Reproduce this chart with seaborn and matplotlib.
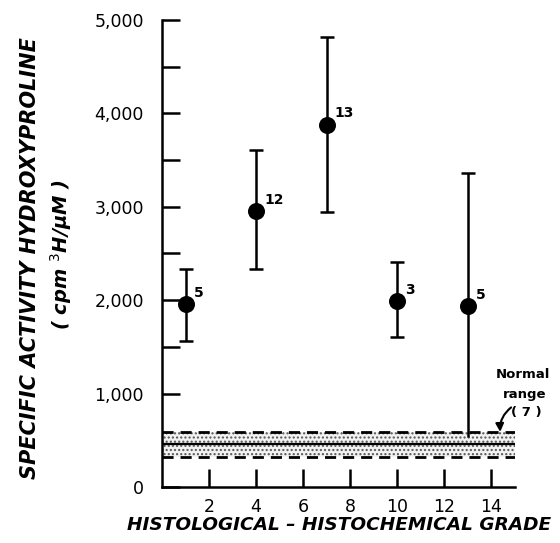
import matplotlib
matplotlib.use("Agg")
import matplotlib.pyplot as plt
import matplotlib.ticker as mticker
import seaborn as sns
import numpy as np
import pandas as pd

# ---- data ----
grade = [1, 4, 7, 10, 13]
activity = [1960, 2955, 3880, 1995, 1935]
err_upper = [2335, 3605, 4815, 2410, 3360]
err_lower = [1560, 2335, 2945, 1610, 540]
n_labels = ["5", "12", "13", "3", "5"]
lower_cap = [True, True, True, True, False]

normal_low = 320
normal_mid = 460
normal_high = 590
normal_x = [0, 15]

x_ticks = [2, 4, 6, 8, 10, 12, 14]
y_major = [0, 1000, 2000, 3000, 4000, 5000]

df = pd.DataFrame({"grade": grade, "activity": activity})

sns.set_theme(style="ticks")
plt.rcParams['font.family'] = ['DejaVu Sans']
plt.rcParams['text.color'] = 'black'
plt.rcParams['hatch.color'] = '#555555'
plt.rcParams['hatch.linewidth'] = 1.0

fig = plt.figure(figsize=(5.6, 5.43), dpi=100)
ax = fig.add_axes([162/560, 1-487/543, 352.5/560, 467/543])

# normal range band
ax.fill_between(normal_x, normal_low, normal_high, facecolor="#f2f2f2",
                edgecolor="#555555", hatch="....", linewidth=0, zorder=1)
ax.hlines([normal_low, normal_high], normal_x[0], normal_x[1], colors="black",
          linestyles=(0, (4, 2.5)), linewidth=2, zorder=2)
ax.hlines([normal_mid], normal_x[0], normal_x[1], colors="black",
          linewidth=1.6, zorder=2)

# error bars
act = np.array(activity)
up = np.array(err_upper) - act
lo = act - np.array(err_lower)
ax.errorbar(grade, activity, yerr=[np.zeros_like(up), up], fmt="none",
            ecolor="black", elinewidth=1.8, capsize=5, capthick=1.8, zorder=3)
caps = np.array(lower_cap)
g = np.array(grade)
ax.errorbar(g[caps], act[caps], yerr=[lo[caps], np.zeros(caps.sum())], fmt="none",
            ecolor="black", elinewidth=1.8, capsize=5, capthick=1.8, zorder=3)
ax.errorbar(g[~caps], act[~caps], yerr=[lo[~caps], np.zeros((~caps).sum())], fmt="none",
            ecolor="black", elinewidth=1.8, capsize=0, zorder=3)

sns.scatterplot(data=df, x="grade", y="activity", ax=ax, s=150, color="black",
                edgecolor="black", linewidth=0, zorder=4, legend=False)

for xg, ya, lab in zip(grade, activity, n_labels):
    ax.annotate(lab, (xg, ya), xytext=(6, 8), textcoords="offset points",
                fontsize=10, fontweight="bold", ha="left", va="center",
                color="black")

# normal range label
ax.text(15.35, 1200, "Normal", fontsize=9.5, fontweight="bold", ha="center",
        va="center", clip_on=False, color="black")
ax.text(15.45, 990, "range", fontsize=9.5, fontweight="bold", ha="center",
        va="center", clip_on=False, color="black")
ax.text(15.5, 800, "( 7 )", fontsize=9.5, fontweight="bold", ha="center",
        va="center", clip_on=False, color="black")
ax.annotate("", xy=(14.4, 560), xytext=(14.95, 870),
            arrowprops=dict(arrowstyle="-|>", color="black", lw=1.5,
                            connectionstyle="arc3,rad=0.3"),
            annotation_clip=False)

ax.set_xlim(0, 15)
ax.set_ylim(0, 5000)
ax.set_xticks(x_ticks)
ax.set_yticks(y_major)
ax.yaxis.set_minor_locator(mticker.MultipleLocator(500))
ax.yaxis.set_major_formatter(mticker.FuncFormatter(lambda v, p: f"{int(v):,}"))
ax.tick_params(axis="both", which="both", direction="in", length=13, width=1.8,
               colors="black", labelsize=12.5, pad=8)
ax.tick_params(axis="y", pad=13)
for s in ["top", "right"]:
    ax.spines[s].set_visible(False)
for s in ["left", "bottom"]:
    ax.spines[s].set_linewidth(1.8)
    ax.spines[s].set_color("black")

ax.set_xlabel("")
ax.set_ylabel("")
fig.text(339/560, 1-525/543, "HISTOLOGICAL – HISTOCHEMICAL GRADE", fontsize=13.3,
         fontweight="bold", fontstyle="italic",
         ha="center", va="center", color="black")
fig.text(30/560, 1-258/543, "SPECIFIC ACTIVITY HYDROXYPROLINE", fontsize=15,
         fontweight="bold", fontstyle="italic",
         ha="center", va="center", rotation=90, color="black")
fig.text(61/560, 1-255/543, "( cpm $^{3}$H/μM )", fontsize=14,
         fontweight="bold", fontstyle="italic",
         ha="center", va="center", rotation=90, color="black")

fig.savefig("out.png", dpi=100)
